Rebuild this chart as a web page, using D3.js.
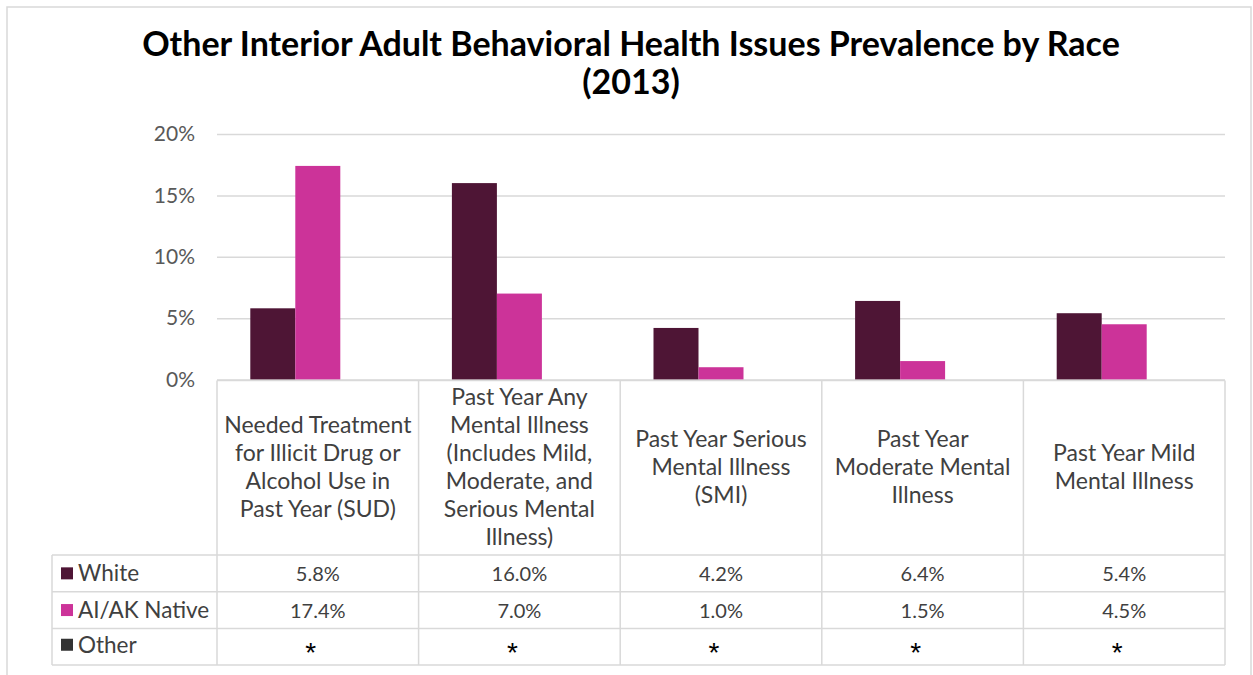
<!DOCTYPE html>
<html><head><meta charset="utf-8">
<script src="https://cdn.jsdelivr.net/npm/d3@7"></script>
<style>
html,body{margin:0;padding:0;background:#fff;}
svg{display:block;font-family:Lato,"Noto Sans",sans-serif;}
</style></head>
<body>
<svg id="chart" width="1253" height="675"></svg>
<script>
const titleLines = ["Other Interior Adult Behavioral Health Issues Prevalence by Race", "(2013)"];
const categories = ["SUD", "AMI", "SMI", "Moderate", "Mild"];
const categoryLines = [
  ["Needed Treatment", "for Illicit Drug or", "Alcohol Use in", "Past Year (SUD)"],
  ["Past Year Any", "Mental Illness", "(Includes Mild,", "Moderate, and", "Serious Mental", "Illness)"],
  ["Past Year Serious", "Mental Illness", "(SMI)"],
  ["Past Year", "Moderate Mental", "Illness"],
  ["Past Year Mild", "Mental Illness"]
];
const seriesNames = ["White", "AI/AK Native", "Other"];
const whiteValues = [5.8, 16.0, 4.2, 6.4, 5.4];
const aiakValues = [17.4, 7.0, 1.0, 1.5, 4.5];
const otherValues = [null, null, null, null, null];
const seriesColors = ["#4E1535", "#CC3399", "#333333"];
const yTicks = [0, 5, 10, 15, 20];

const seriesValues = [whiteValues, aiakValues, otherValues];
const svg = d3.select("#chart");
const gridColor = "#d9d9d9";
const textColor = "#404040";

// outer border
svg.append("rect").attr("x", 7).attr("y", 7).attr("width", 1244).attr("height", 700)
  .attr("fill", "none").attr("stroke", gridColor).attr("stroke-width", 1.5);

// title
svg.append("g").selectAll("text").data(titleLines).join("text")
  .attr("x", 631).attr("y", (d, i) => 56 + i * 38)
  .attr("text-anchor", "middle").attr("font-weight", 700).attr("font-size", 34)
  .attr("fill", "#000").text(d => d);

const plotLeft = 217, plotRight = 1225, plotTop = 134, plotBottom = 379.5;
const x = d3.scaleBand().domain(categories).range([plotLeft, plotRight]).padding(0);
const xs = d3.scaleBand().domain(seriesNames).range([0, x.bandwidth()]).paddingInner(0).paddingOuter(0.74);
const y = d3.scaleLinear().domain([0, 20]).range([plotBottom, plotTop]);

// gridlines + y axis
const yAxis = svg.append("g").attr("transform", `translate(${plotLeft},0)`)
  .call(d3.axisLeft(y).tickValues(yTicks).tickSize(-(plotRight - plotLeft)).tickPadding(22).tickFormat(d => d + "%"));
yAxis.select(".domain").remove();
yAxis.selectAll(".tick line").attr("stroke", gridColor).attr("stroke-width", 1.5);
yAxis.selectAll(".tick text").attr("font-size", 21).attr("fill", "#595959").attr("font-family", "Lato");

// bars
const barData = [];
categories.forEach((c, ci) => seriesNames.forEach((s, si) => {
  if (seriesValues[si][ci] != null) barData.push({c, s, si, v: seriesValues[si][ci]});
}));
svg.append("g").selectAll("rect").data(barData).join("rect")
  .attr("x", d => x(d.c) + xs(d.s)).attr("width", xs.bandwidth())
  .attr("y", d => y(d.v)).attr("height", d => y(0) - y(d.v))
  .attr("fill", d => seriesColors[d.si]);

// data table
const tableLeft = 52;
const headerBottom = 555;
const rowH = 36.7;
const tableBottom = headerBottom + rowH * seriesNames.length;
const tg = svg.append("g");
tg.append("line").attr("x1", plotLeft).attr("x2", plotRight).attr("y1", plotBottom + 1).attr("y2", plotBottom + 1)
  .attr("stroke", gridColor).attr("stroke-width", 1.5);
d3.range(seriesNames.length + 1).forEach(i => {
  tg.append("line").attr("x1", tableLeft).attr("x2", plotRight)
    .attr("y1", headerBottom + i * rowH).attr("y2", headerBottom + i * rowH)
    .attr("stroke", gridColor).attr("stroke-width", 1.5);
});
const bounds = categories.map(c => x(c)).concat([plotRight]);
bounds.forEach(bx => {
  tg.append("line").attr("x1", bx).attr("x2", bx).attr("y1", plotBottom + 1).attr("y2", tableBottom)
    .attr("stroke", gridColor).attr("stroke-width", 1.5);
});
tg.append("line").attr("x1", tableLeft).attr("x2", tableLeft).attr("y1", headerBottom).attr("y2", tableBottom)
  .attr("stroke", gridColor).attr("stroke-width", 1.5);

// category header labels
const headerMid = 467;
const lh = 28;
categories.forEach((c, ci) => {
  const lines = categoryLines[ci];
  const t = tg.append("text").attr("text-anchor", "middle").attr("font-size", 23).attr("fill", textColor);
  lines.forEach((ln, li) => {
    t.append("tspan").attr("x", x(c) + x.bandwidth() / 2)
      .attr("y", headerMid + (li - (lines.length - 1) / 2) * lh)
      .attr("dy", "0.35em").text(ln);
  });
});

// rows
seriesNames.forEach((s, si) => {
  const rowMid = headerBottom + si * rowH + rowH / 2;
  const off = si === 2 ? -2 : 0;
  tg.append("rect").attr("x", 61).attr("y", rowMid - 6 + off).attr("width", 12).attr("height", 12)
    .attr("fill", seriesColors[si]);
  tg.append("text").attr("x", 78).attr("y", rowMid + off).attr("dy", "0.35em")
    .attr("font-size", 22.5).attr("fill", textColor).text(s);
  categories.forEach((c, ci) => {
    const v = seriesValues[si][ci];
    if (v == null) {
      tg.append("text").attr("x", x(c) + x.bandwidth() / 2 - 7)
        .attr("y", 662).attr("text-anchor", "middle")
        .attr("font-family", "Liberation Sans").attr("font-size", 28).attr("fill", "#000").text("*");
    } else {
      tg.append("text").attr("x", x(c) + x.bandwidth() / 2)
        .attr("y", rowMid + 1).attr("dy", "0.35em")
        .attr("text-anchor", "middle").attr("font-size", 20).attr("fill", textColor)
        .text(v.toFixed(1) + "%");
    }
  });
});
</script>
</body></html>
